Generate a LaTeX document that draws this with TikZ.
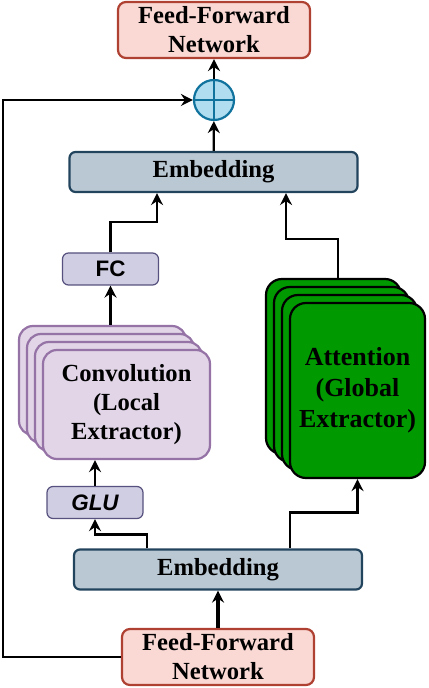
\documentclass[tikz,border=0pt]{standalone}
\usepackage{fontspec}
\setmainfont{Liberation Serif}
\setsansfont{Liberation Sans}
\usetikzlibrary{arrows.meta}
\definecolor{ffnfill}{HTML}{FAD9D5}
\definecolor{ffnline}{HTML}{AE4132}
\definecolor{embfill}{HTML}{BAC8D3}
\definecolor{embline}{HTML}{23445D}
\definecolor{plusfill}{HTML}{B1DDF0}
\definecolor{plusline}{HTML}{10739E}
\definecolor{smfill}{HTML}{D0CEE2}
\definecolor{smline}{HTML}{56517E}
\definecolor{convfill}{HTML}{E1D5E7}
\definecolor{convline}{HTML}{9673A6}
\definecolor{attfill}{HTML}{009900}

\begin{document}
\begin{tikzpicture}[x=0.5pt, y=-0.5pt, >={Stealth[length=6pt,width=6pt,inset=2pt]},
    every node/.append style={align=center, inner sep=0pt, line width=1.1pt,
      font=\fontsize{12.3}{14.5}\selectfont\bfseries},
    ffn/.style={draw=ffnline, fill=ffnfill, rounded corners=4pt, minimum width=96pt, minimum height=28pt},
    emb/.style={draw=embline, fill=embfill, rounded corners=3pt, minimum width=144pt, minimum height=20pt},
    smallbox/.style={draw=smline, fill=smfill, rounded corners=3pt, minimum width=48pt, minimum height=16pt,
      line width=0.6pt, font=\fontsize{11.2}{13}\selectfont\sffamily\bfseries},
    convbox/.style={draw=convline, fill=convfill, rounded corners=7pt, minimum width=83.5pt, minimum height=54.5pt},
    attbox/.style={draw=black, fill=attfill, rounded corners=8pt, minimum width=67.5pt, minimum height=87.5pt},
    arr/.style={->, line width=1.1pt}]
    \useasboundingbox (0,0) rectangle (428,688);
    \node[ffn] (ffnbot) at (218,657) {Feed-Forward\\Network};
    \node[emb] (embbot) at (218,569.5) {Embedding};
    \node[smallbox] (glu) at (95,502.5) {\itshape GLU};
    \foreach \i in {3,2,1}
      \node[convbox] (conv\i) at ({126.5-8*\i},{404.5-8*\i}) {};
    \node[convbox] (conv) at (126.5,404.5) {Convolution\\(Local\\Extractor)};
    \foreach \i in {3,2,1}
      \node[attbox] (att\i) at ({357.5-8*\i},{390.5-8*\i}) {};
    \node[attbox, font=\fontsize{13}{15.5}\selectfont\bfseries] (att) at (357.5,390.5) {Attention\\(Global\\Extractor)};
    \node[smallbox] (fc) at (110.5,269) {FC};
    \node[emb] (embtop) at (213.5,172) {Embedding};
    \node[circle, draw=plusline, fill=plusfill, minimum size=20pt] (plus) at (214,100) {};
    \draw[plusline, line width=1.1pt] (plus.north) -- (plus.south) (plus.west) -- (plus.east);
    \node[ffn] (ffntop) at (214,30) {Feed-Forward\\Network};
    \draw[arr, line width=1.6pt] (ffnbot) -- (embbot);
    \draw[arr] ([xshift=-35.5pt]embbot.north) -- ++(0,-14) -| (glu.south);
    \draw[arr] ([xshift=36pt]embbot.north) -- ++(0,-36) -| (att.south);
    \draw[arr] (glu.north) -- (glu.north |- conv.south);
    \draw[arr] (fc.south |- conv3.north) -- (fc.south);
    \draw[arr] (fc.north) -- ++(0,-30) -| ([xshift=-28.25pt]embtop.south);
    \draw[arr] ([xshift=2.25pt]att3.north) -- ++(0,-39) -| ([xshift=36.25pt]embtop.south);
    \draw[arr] (embtop) -- (plus);
    \draw[arr] (plus) -- (ffntop);
    \draw[arr] (ffnbot.west) -- ++(-118,0) |- (plus.west);
\end{tikzpicture}
\end{document}
